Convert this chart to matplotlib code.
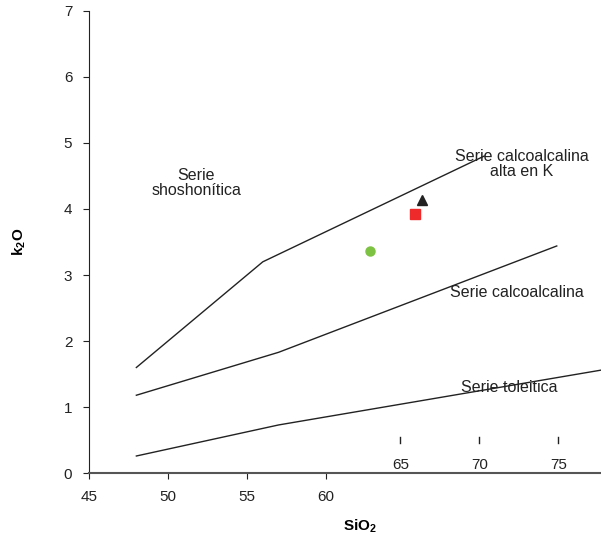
import matplotlib
matplotlib.use('Agg')
import matplotlib.pyplot as plt

plt.rcParams['font.family'] = ['Liberation Sans', 'DejaVu Sans']

# boundary lines (SiO2, K2O)
shosho_x = [48, 56, 70]
shosho_y = [1.6, 3.2, 4.8]
highk_x = [48, 57, 74.6]
highk_y = [1.18, 1.83, 3.44]
thol_x = [48, 57, 77.4]
thol_y = [0.26, 0.73, 1.56]

# samples
circle = (62.8, 3.37)
square = (65.6, 3.92)
triangle = (66.1, 4.14)

xticks_low = [45, 50, 55, 60]
xticks_high = [65, 70, 75]
yticks = [0, 1, 2, 3, 4, 5, 6, 7]

fig = plt.figure(figsize=(6.01, 5.42), dpi=100)
ax = fig.add_axes([0.148, 0.127, 0.852, 0.853])

lc = '#222222'
ax.plot(shosho_x, shosho_y, color=lc, lw=1)
ax.plot(highk_x, highk_y, color=lc, lw=1)
ax.plot(thol_x, thol_y, color=lc, lw=1)

ax.plot(*circle, 'o', color='#7dc243', ms=6.5)
ax.plot(*square, 's', color='#ee2a2a', ms=6.5)
ax.plot(*triangle, '^', color='#222222', ms=7)

fs = 11.5
ax.text(51.8, 4.4, 'Serie\nshoshonítica', ha='center', va='center', fontsize=fs, color='#222', linespacing=1.0)
ax.text(72.4, 4.68, 'Serie calcoalcalina\nalta en K', ha='center', va='center', fontsize=fs, color='#222', linespacing=1.0)
ax.text(72.1, 2.73, 'Serie calcoalcalina', ha='center', va='center', fontsize=fs, color='#222')
ax.text(71.6, 1.29, 'Serie toleitica', ha='center', va='center', fontsize=fs, color='#222')

# the stray tick labels drawn inside the plot
for v in xticks_high:
    ax.plot([v - 0.3, v - 0.3], [0.46, 0.55], color='#222', lw=1)
    ax.text(v - 0.3, 0.12, str(v), ha='center', va='center', fontsize=11, color='#222')

ax.set_xlim(45, 77.4)
ax.set_ylim(0, 7)
ax.set_xticks(xticks_low)
ax.set_yticks(yticks)
ax.tick_params(direction='out', length=4, labelsize=11, colors='#222', pad=8)
ax.spines['top'].set_visible(False)
ax.spines['right'].set_visible(False)
ax.spines['left'].set_color('#222')
ax.spines['bottom'].set_color('#555')
ax.spines['bottom'].set_linewidth(1.5)

ax.set_xlabel('SiO$_\\mathregular{2}$', fontsize=11, fontweight='bold', labelpad=10, x=0.53)
ax.set_ylabel('k$_\\mathregular{2}$O', fontsize=11, fontweight='bold', labelpad=26)

fig.savefig('out.png', dpi=100)
